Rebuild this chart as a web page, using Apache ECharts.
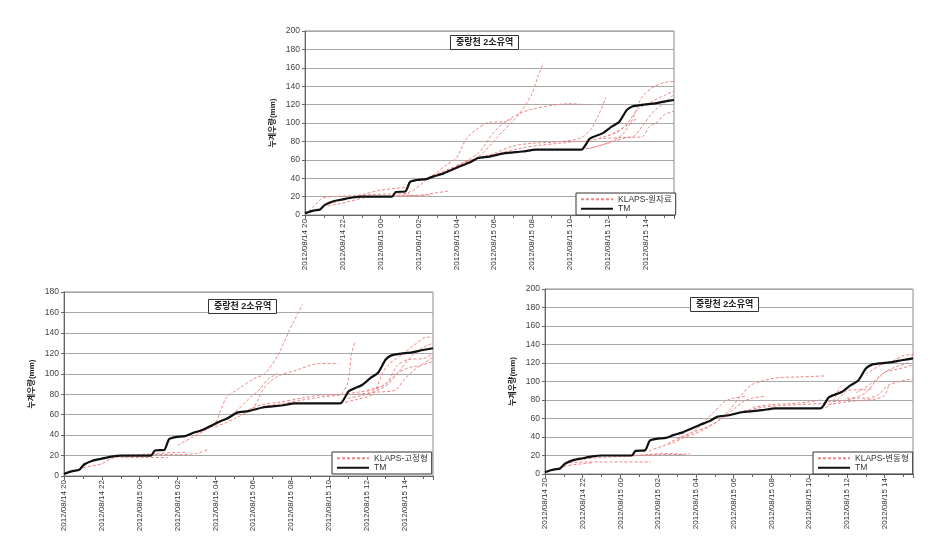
<!DOCTYPE html>
<html>
<head>
<meta charset="utf-8">
<script src="https://cdn.jsdelivr.net/npm/echarts@6/dist/echarts.min.js"></script>
<style>html,body{margin:0;padding:0;background:#fff}#c{width:930px;height:545px}</style>
</head>
<body>
<div id="c"></div>
<script>
// x = hours since 2012/08/14 20:00
const tickLabels = ["2012/08/14 20","2012/08/14 22","2012/08/15 00","2012/08/15 02","2012/08/15 04","2012/08/15 06","2012/08/15 08","2012/08/15 10","2012/08/15 12","2012/08/15 14"];
const panelTitle = "중랑천 2소유역";
const seriesNames = ["KLAPS-원자료","KLAPS-고정형","KLAPS-변동형"];
const yMax = [200, 180, 200];

const tm = [[0,2],[0.3,4],[0.5,5],[0.8,6],[1.05,11],[1.5,15],[2,17],[2.5,19],[3,20],[4,20],[4.6,20],[4.8,25],[5.3,25.5],[5.55,36],[5.9,38],[6.4,39],[6.8,42],[7.3,45],[7.75,49],[8.2,53],[8.7,57],[9.15,62],[9.75,63.5],[10.5,67],[11.5,69],[12.2,71],[14.6,71],[15.05,83],[15.75,89],[16.2,96],[16.6,101],[17,114],[17.3,118],[17.7,119.5],[18.4,121],[18.9,123],[19.5,125]];

const klapsRaw = [
 [[0,0],[0.4,8],[0.9,18],[1.5,20],[2.5,21],[3.5,22],[4.5,23],[5.5,23]],
 [[1,11],[1.6,14],[2.3,18],[3,22],[4,27],[4.8,29],[5.5,30]],
 [[1.2,10],[1.8,12],[2.4,15],[3.2,19],[4,20],[5,21],[6,21],[6.6,22]],
 [[4.5,20],[5.5,21],[6.3,22],[6.9,24],[7.6,26]],
 [[5.2,22],[5.8,28],[6.4,38],[7,47],[7.5,55],[8,62],[8.5,82],[9,92],[9.8,101],[10.5,101],[11,105]],
 [[6,37],[6.8,43],[7.6,50],[8.4,56],[9.2,64],[9.8,76],[10.4,90],[11,102],[11.6,118],[12,132],[12.3,150],[12.6,165]],
 [[6.5,40],[7.4,47],[8.3,56],[9.2,68],[9.9,88],[10.5,100],[11.3,110],[12,115],[13,119],[14,121],[14.8,120]],
 [[8,54],[9,61],[10,67],[11,75],[12,78],[13,79],[14,81],[14.6,84],[15.1,93],[15.5,108],[15.9,128]],
 [[9.5,63],[10.5,68],[11.5,73],[12.5,76],[13.5,78],[14.5,80],[15,80]],
 [[14.6,71],[15.5,75],[16.2,80],[16.8,88],[17.3,104],[17.8,128],[18.4,139],[19,144],[19.5,145]],
 [[15,80],[15.8,85],[16.5,90],[17,99],[17.6,115],[18.4,124],[19,130],[19.5,135]],
 [[15.5,83],[16.5,84],[17.3,85],[17.8,96],[18.4,112],[19,122],[19.5,131]],
 [[15,72],[16,78],[17,84],[17.8,85],[18.2,96],[18.6,101],[19,109],[19.5,113]],
 [[16,86],[16.6,92],[17.2,100],[17.6,106]]
];

const klapsFixed = [
 [[0.5,5],[1,8],[1.5,10],[2,12],[2.5,17],[3,19]],
 [[1,12],[2,17],[3,20],[4,21],[5,22],[6,23],[6.5,23]],
 [[3,18],[4,18],[5,18],[5.5,18]],
 [[4,20],[5,21],[6,21],[7,22],[7.6,26]],
 [[6,30],[6.8,38],[7.5,45],[8,52],[8.3,65],[8.6,77],[9.2,85],[10,95],[10.6,100],[11.3,118],[11.9,142],[12.6,168]],
 [[8,48],[9,56],[10,67],[10.6,87],[11.35,98],[12.2,103],[13.5,110],[14.5,110]],
 [[7,42],[8,50],[9,62],[9.8,76],[10.3,84],[10.8,95],[11.3,100]],
 [[9.5,63],[10.5,70],[11.3,72],[12.5,76],[13.5,79],[14.6,80],[15,92],[15.2,120],[15.4,132]],
 [[10.5,68],[11.3,70],[12.5,74],[13.5,77],[14.5,79],[15.5,82],[16.3,84],[17,90],[17.6,100],[18.2,106],[18.8,108],[19.5,112]],
 [[14.6,71],[15.5,75],[16.3,80],[17,106],[17.8,118],[18.5,128],[19.2,136],[19.5,135]],
 [[15,76],[16,80],[17,88],[17.6,100],[18.4,118],[19,126],[19.5,130]],
 [[15.5,80],[16.5,82],[17.5,84],[18,95],[18.6,105],[19,110],[19.5,116]],
 [[16,84],[17,90],[17.6,108],[18.2,114],[19,115],[19.5,120]]
];

const klapsVar = [
 [[0.5,4],[1,8],[1.5,10],[2,11],[2.5,12]],
 [[1.3,12],[2,13],[3,13],[4,13],[5,13],[5.6,13]],
 [[1,12],[2,16],[3,18],[4,19],[5,20],[6,21],[7,21],[7.7,22]],
 [[4.5,20],[5.5,21],[6.2,22],[6.8,22],[7.3,21]],
 [[5.5,25],[6.2,30],[6.8,34],[7.4,40],[8,48],[8.5,58],[9,68],[9.5,78],[10,82],[10.7,84]],
 [[6.5,33],[7.2,40],[7.8,45],[8.5,50],[9.2,58],[9.8,70],[10.4,85],[10.9,96],[11.6,101],[12.3,104],[13.5,105],[14.8,106]],
 [[7,38],[8,44],[9,55],[9.5,62],[10,70],[10.5,78],[11,82],[11.6,84]],
 [[9.5,62],[10.5,68],[11.5,72],[12.5,74],[13.5,75],[14.5,76],[15,77]],
 [[11,72],[12,75],[13,76],[14,78],[14.6,80]],
 [[14.6,71],[15,73],[15.3,80],[15.6,93],[15.8,97]],
 [[15,78],[16,80],[17,88],[17.5,100],[18,110],[18.6,116],[19.2,120],[19.5,130]],
 [[15.5,80],[16,90],[16.5,91],[17,91],[17.3,92]],
 [[15,75],[16,78],[17,80],[17.5,81],[18,85],[18.2,95]],
 [[16,82],[17,82],[17.6,85],[18.2,96],[18.8,100],[19.5,103]],
 [[16.5,88],[17.3,98],[18,110],[18.6,113],[19.2,116],[19.5,118]],
 [[17,108],[17.8,118],[18.4,122],[19,128],[19.5,129]]
];

const panelLines = [klapsRaw, klapsFixed, klapsVar];

const FONT = "'Liberation Sans','Noto Sans CJK KR',sans-serif";
const grids = [
  {left:305, top:31, width:369, height:184},
  {left:64, top:292, width:369, height:184},
  {left:545, top:289, width:368, height:185}
];
const titlePos = [{left:450, top:35},{left:208, top:299},{left:690, top:297}];
const legendPos = [{left:576, top:193},{left:332, top:452},{left:813, top:452}];

const option = {
  animation:false,
  backgroundColor:'#fff',
  textStyle:{fontFamily:FONT},
  grid: grids.map(g => Object.assign({show:true, borderColor:'#8c8c8c', borderWidth:1, backgroundColor:'#fff'}, g)),
  title: titlePos.map(p => ({
    text: panelTitle, left:p.left, top:p.top,
    padding:[3,6], borderColor:'#333', borderWidth:1, backgroundColor:'#fff',
    textStyle:{fontSize:9, fontWeight:'bold', color:'#222', fontFamily:FONT}
  })),
  legend: legendPos.map((p,i) => ({
    data:[seriesNames[i],'TM'], orient:'vertical', left:p.left, top:p.top,
    itemWidth:32, itemHeight:8, itemGap:1, padding:[2,4,2,4],
    borderColor:'#333', borderWidth:1, backgroundColor:'#fff',
    itemStyle:{opacity:0},
    textStyle:{fontSize:8.5, color:'#333', fontFamily:FONT},
    selectedMode:false
  })),
  xAxis: grids.map((g,i) => ({
    type:'value', gridIndex:i, min:0, max:19.5, interval:2,
    axisLine:{show:true, onZero:false, lineStyle:{color:'#666'}},
    axisTick:{show:true, length:4, lineStyle:{color:'#666'}},
    minorTick:{show:true, splitNumber:2, length:3, lineStyle:{color:'#666'}},
    splitLine:{show:false},
    axisLabel:{rotate:90, fontSize:8, color:'#333', margin:4, fontFamily:FONT,
      formatter: v => (Math.abs(v/2 - Math.round(v/2))<1e-6 && tickLabels[Math.round(v/2)]) ? tickLabels[Math.round(v/2)] : ''}
  })),
  yAxis: grids.map((g,i) => ({
    type:'value', gridIndex:i, min:0, max:yMax[i], interval:20,
    name:'누계우량(mm)', nameLocation:'middle', nameRotate:90, nameGap:28,
    nameTextStyle:{fontSize:8, fontWeight:'bold', color:'#222', fontFamily:FONT},
    axisLine:{show:true, lineStyle:{color:'#666'}},
    axisTick:{show:true, length:3, lineStyle:{color:'#666'}},
    splitLine:{show:true, lineStyle:{color:'#a8a8a8', width:1}},
    axisLabel:{fontSize:8.5, color:'#444', margin:5, fontFamily:FONT}
  })),
  series: []
};

panelLines.forEach((lines, i) => {
  lines.forEach(d => {
    option.series.push({
      type:'line', name:seriesNames[i], xAxisIndex:i, yAxisIndex:i, data:d,
      symbol:'none', smooth:0.3, silent:true,
      lineStyle:{color:'#f08585', width:1, type:[3,2]}, itemStyle:{color:'#f08585'}
    });
  });
  option.series.push({
    type:'line', name:'TM', xAxisIndex:i, yAxisIndex:i, data:tm,
    symbol:'none', smooth:0.2, silent:true, z:5,
    lineStyle:{color:'#111', width:2.2}, itemStyle:{color:'#111'}
  });
});

const chart = echarts.init(document.getElementById('c'), null, {renderer:'canvas'});
chart.setOption(option);
</script>
</body>
</html>
